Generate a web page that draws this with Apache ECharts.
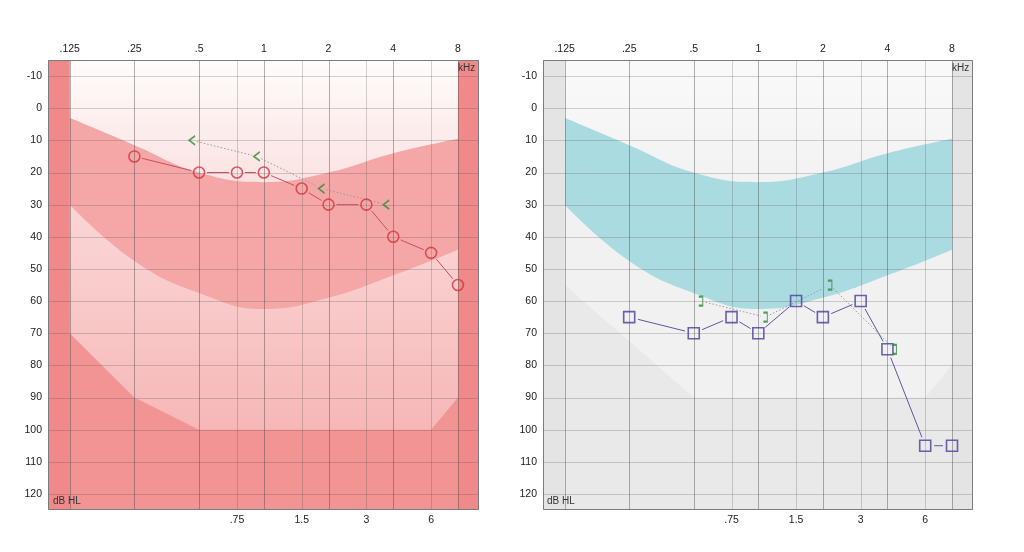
<!DOCTYPE html>
<html><head><meta charset="utf-8">
<script src="https://cdn.jsdelivr.net/npm/echarts@6/dist/echarts.min.js"></script>
<style>html,body{margin:0;padding:0;background:#fff}#c{width:1024px;height:552px}</style>
</head><body><div id="c"></div>
<script>
// ---- data ----
const acFreqs = [0.25, 0.5, 0.75, 1, 1.5, 2, 3, 4, 6, 8];
const rightAC = [15, 20, 20, 20, 25, 30, 30, 40, 45, 55];
const leftAC = [65, 70, 65, 70, 60, 65, 60, 75, 105, 105];
const bcFreqs = [0.5, 1, 2, 4];
const rightBC = [10, 15, 25, 30];
const leftBC = [60, 65, 55, 75];
const normFreqs = [0.125, 0.25, 0.5, 1, 2, 4, 8];
const normUpper = [3, 11.5, 20, 23, 20, 14, 9.5];
const normLower = [30, 47.5, 57.5, 62.5, 59, 52, 44];
const floorFreqsR = [0.125, 0.25, 0.5, 6, 8];
const floorR = [70, 90, 100, 100, 90];
const floorFreqsL = [0.125, 0.5, 6, 8];
const floorL = [55, 90, 90, 80];
const octaveFreqs = [0.125, 0.25, 0.5, 1, 2, 4, 8];
const octaveLabels = ['.125', '.25', '.5', '1', '2', '4', '8'];
const midFreqs = [0.75, 1.5, 3, 6];
const midLabels = ['.75', '1.5', '3', '6'];
const dbTicks = [-10, 0, 10, 20, 30, 40, 50, 60, 70, 80, 90, 100, 110, 120];

// ---- helpers ----
const X_MIN = -3.335, X_MAX = 3.325, Y_MIN = -15, Y_MAX = 125;
const L2 = Math.log2;
const FONT = 'Liberation Sans, Arial, sans-serif';
const pts = (fs, vs) => fs.map((f, i) => [L2(f), vs[i]]);
const fmt = (fs, labels) => v => {
  for (let i = 0; i < fs.length; i++) if (Math.abs(L2(fs[i]) - v) < 1e-6) return labels[i];
  return '';
};
function segs(fs, vs) {
  const d = [];
  for (let i = 0; i < fs.length - 1; i++) d.push([L2(fs[i]), vs[i], L2(fs[i + 1]), vs[i + 1]]);
  return d;
}
function segSeries(g, data, offset, gap, style, z) {
  return {
    type: 'custom', xAxisIndex: g * 2, yAxisIndex: g, z: z, silent: true,
    encode: { x: [0, 2], y: [1, 3] },
    data: data,
    renderItem: (params, api) => {
      const p1 = api.coord([api.value(0), api.value(1)]);
      const p2 = api.coord([api.value(2), api.value(3)]);
      p1[0] += offset; p2[0] += offset;
      const dx = p2[0] - p1[0], dy = p2[1] - p1[1];
      const len = Math.sqrt(dx * dx + dy * dy);
      if (len <= 2 * gap + 1) return null;
      const ux = dx / len, uy = dy / len;
      return {
        type: 'line',
        shape: { x1: p1[0] + ux * gap, y1: p1[1] + uy * gap, x2: p2[0] - ux * gap, y2: p2[1] - uy * gap },
        style: style
      };
    }
  };
}

const themes = [
  {
    bg: '#f29494', strip: '#f08a8a',
    floor: { type: 'linear', x: 0, y: 0, x2: 0, y2: 1, colorStops: [{ offset: 0, color: '#fde2e2' }, { offset: 0.55, color: '#facfcf' }, { offset: 1, color: '#f6b7b7' }] },
    band: '#f5a7a7',
    top: { type: 'linear', x: 0, y: 0, x2: 0, y2: 1, colorStops: [{ offset: 0, color: '#fffcfc' }, { offset: 1, color: '#fbe2e2' }] },
    floorF: floorFreqsR, floorV: floorR
  },
  {
    bg: '#e9e9e9', strip: '#e4e4e4',
    floor: '#f1f1f1',
    band: '#aadbe1',
    top: { type: 'linear', x: 0, y: 0, x2: 0, y2: 1, colorStops: [{ offset: 0, color: '#fafafa' }, { offset: 1, color: '#f2f2f2' }] },
    floorF: floorFreqsL, floorV: floorL
  }
];

const grids = [
  { left: 48, top: 60, width: 431, height: 450 },
  { left: 543, top: 60, width: 430, height: 450 }
];

const option = {
  animation: false,
  backgroundColor: '#ffffff',
  grid: grids.map((g, i) => Object.assign({ show: true, backgroundColor: themes[i].bg, borderWidth: 0 }, g)),
  xAxis: [],
  yAxis: [],
  series: [],
  graphic: []
};

const labelStyle = { fontSize: 10.5, color: '#222', fontFamily: FONT };

for (let g = 0; g < 2; g++) {
  const th = themes[g];
  option.xAxis.push({
    gridIndex: g, type: 'value', position: 'top', min: X_MIN, max: X_MAX,
    axisLine: { show: false }, axisTick: { show: false }, splitLine: { show: false },
    axisLabel: Object.assign({ customValues: octaveFreqs.map(L2), formatter: fmt(octaveFreqs, octaveLabels), margin: 5 }, labelStyle)
  });
  option.xAxis.push({
    gridIndex: g, type: 'value', position: 'bottom', min: X_MIN, max: X_MAX,
    axisLine: { show: false }, axisTick: { show: false }, splitLine: { show: false },
    axisLabel: Object.assign({ customValues: midFreqs.map(L2), formatter: fmt(midFreqs, midLabels), margin: 5 }, labelStyle)
  });
  option.yAxis.push({
    gridIndex: g, type: 'value', inverse: true, min: Y_MIN, max: Y_MAX,
    axisLine: { show: false }, axisTick: { show: false }, splitLine: { show: false },
    axisLabel: Object.assign({ customValues: dbTicks, margin: 6 }, labelStyle)
  });
  const xi = g * 2, yi = g;
  const area = (data, color, smooth, z) => ({
    type: 'line', xAxisIndex: xi, yAxisIndex: yi, data: data, smooth: smooth,
    symbol: 'none', silent: true, z: z, lineStyle: { width: 0 },
    areaStyle: { origin: 'start', color: color, opacity: 1 }
  });
  option.series.push(area(pts(th.floorF, th.floorV), th.floor, false, 1));
  option.series.push(area(pts(normFreqs, normLower), th.band, 0.45, 2));
  option.series.push(area(pts(normFreqs, normUpper), th.top, 0.45, 3));
  // side strips
  option.series.push({
    type: 'custom', xAxisIndex: xi, yAxisIndex: yi, z: 4, silent: true,
    data: [[X_MIN, L2(octaveFreqs[0])], [L2(octaveFreqs[octaveFreqs.length - 1]), X_MAX]],
    renderItem: (params, api) => {
      const p1 = api.coord([api.value(0), Y_MIN]);
      const p2 = api.coord([api.value(1), Y_MAX]);
      return { type: 'rect', shape: { x: p1[0], y: p1[1], width: p2[0] - p1[0], height: p2[1] - p1[1] }, style: { fill: th.strip } };
    }
  });
  // vertical grid lines
  const vData = octaveFreqs.map(f => [L2(f), Y_MIN, 0]).concat(midFreqs.map(f => [L2(f), Y_MIN, 1]));
  option.series.push({
    type: 'custom', xAxisIndex: xi, yAxisIndex: yi, z: 5, silent: true, data: vData,
    renderItem: (params, api) => {
      const v = api.value(0);
      const p1 = api.coord([v, Y_MIN]), p2 = api.coord([v, Y_MAX]);
      const x = Math.round(p1[0]) + 0.5;
      return { type: 'line', shape: { x1: x, y1: p1[1], x2: x, y2: p2[1] },
        style: { stroke: api.value(2) === 0 ? 'rgba(70,70,70,0.42)' : 'rgba(70,70,70,0.24)', lineWidth: 1 } };
    }
  });
  // horizontal grid lines
  option.series.push({
    type: 'custom', xAxisIndex: xi, yAxisIndex: yi, z: 5, silent: true, data: dbTicks.map(d => [X_MIN, d]),
    renderItem: (params, api) => {
      const v = api.value(1);
      const p1 = api.coord([X_MIN, v]), p2 = api.coord([X_MAX, v]);
      const y = Math.round(p1[1]) + 0.5;
      return { type: 'line', shape: { x1: p1[0], y1: y, x2: p2[0], y2: y },
        style: { stroke: 'rgba(70,70,70,0.24)', lineWidth: 1 } };
    }
  });
  // border
  option.series.push({
    type: 'custom', xAxisIndex: xi, yAxisIndex: yi, z: 9, silent: true, data: [[X_MIN, Y_MIN]],
    renderItem: (params, api) => {
      const p1 = api.coord([X_MIN, Y_MIN]), p2 = api.coord([X_MAX, Y_MAX]);
      return { type: 'rect', shape: { x: p1[0] + 0.5, y: p1[1] + 0.5, width: p2[0] - p1[0] - 1, height: p2[1] - p1[1] - 1 },
        style: { fill: 'none', stroke: '#7c7c7c', lineWidth: 1 } };
    }
  });
}

// left panel (red, right ear)
option.series.push(segSeries(0, segs(bcFreqs, rightBC), -7, 5, { stroke: '#9a9a9a', lineWidth: 1, lineDash: [1.5, 2] }, 6));
option.series.push(segSeries(0, segs(acFreqs, rightAC), 0, 8, { stroke: '#c9505a', lineWidth: 1 }, 6));
option.series.push({
  type: 'scatter', xAxisIndex: 0, yAxisIndex: 0, z: 7, silent: true,
  data: pts(acFreqs, rightAC), symbol: 'circle', symbolSize: 11,
  itemStyle: { color: 'rgba(0,0,0,0)', borderColor: '#d3343f', borderWidth: 1.6 }
});
option.series.push({
  type: 'scatter', xAxisIndex: 0, yAxisIndex: 0, z: 7, silent: true,
  data: pts(bcFreqs, rightBC), symbol: 'path://M7,0L0,5L7,10', symbolSize: [6, 9], symbolOffset: [-7, 0],
  itemStyle: { color: 'rgba(0,0,0,0)', borderColor: '#2e8b3a', borderWidth: 1.5 }
});

// right panel (blue, left ear)
option.series.push(segSeries(1, segs(bcFreqs, leftBC), 7, 5, { stroke: '#9a9a9a', lineWidth: 1, lineDash: [1.5, 2] }, 6));
option.series.push(segSeries(1, segs(acFreqs, leftAC), 0, 9, { stroke: '#5b569f', lineWidth: 1 }, 6));
option.series.push({
  type: 'scatter', xAxisIndex: 2, yAxisIndex: 1, z: 7, silent: true,
  data: pts(acFreqs, leftAC), symbol: 'rect', symbolSize: 11,
  itemStyle: { color: 'rgba(0,0,0,0)', borderColor: '#473c9a', borderWidth: 1.6 }
});
option.series.push({
  type: 'scatter', xAxisIndex: 2, yAxisIndex: 1, z: 7, silent: true,
  data: pts(bcFreqs, leftBC), symbol: 'path://M0,0L5,0L5,10L0,10', symbolSize: [4, 9], symbolOffset: [7, 0],
  itemStyle: { color: 'rgba(0,0,0,0)', borderColor: '#2e8b3a', borderWidth: 1.5 }
});

// in-plot unit texts
option.graphic = [
  { type: 'text', left: 458, top: 63, z: 100, style: { text: 'kHz', fontSize: 10, fill: '#333', fontFamily: FONT } },
  { type: 'text', left: 53, top: 496, z: 100, style: { text: 'dB HL', fontSize: 10, fill: '#333', fontFamily: FONT } },
  { type: 'text', left: 952, top: 63, z: 100, style: { text: 'kHz', fontSize: 10, fill: '#333', fontFamily: FONT } },
  { type: 'text', left: 547, top: 496, z: 100, style: { text: 'dB HL', fontSize: 10, fill: '#333', fontFamily: FONT } }
];

const chart = echarts.init(document.getElementById('c'), null, { renderer: 'canvas' });
chart.setOption(option);
</script>
</body></html>
